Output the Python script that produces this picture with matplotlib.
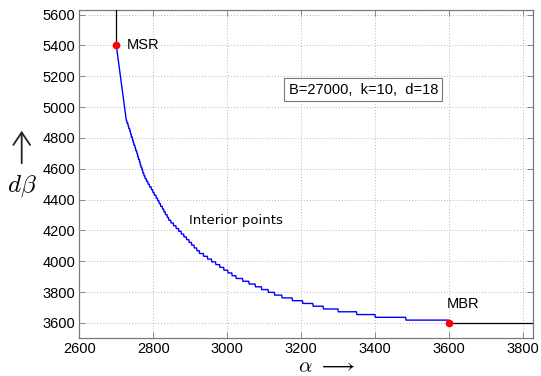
import matplotlib
matplotlib.use("Agg")
import matplotlib.pyplot as plt
from matplotlib.patches import FancyArrowPatch

# Step start points of the tradeoff curve (alpha) and the corresponding d*beta levels
alpha_steps = [2700, 2701, 2702, 2703, 2704, 2705, 2706, 2707, 2708, 2709,
               2710, 2711, 2712, 2713, 2714, 2715, 2716, 2717, 2718, 2719,
               2720, 2721, 2722, 2723, 2724, 2725, 2726, 2727,
               2729, 2732, 2734, 2737, 2739, 2741, 2744, 2746, 2748, 2751,
               2753, 2756, 2758, 2760, 2763, 2765, 2767, 2770, 2772, 2775,
               2778, 2782, 2786, 2790, 2795, 2799, 2803, 2808, 2812, 2816,
               2820, 2825, 2829, 2833, 2838, 2842,
               2848, 2855, 2862, 2869, 2876, 2883, 2890, 2897, 2904, 2911,
               2918, 2925,
               2936, 2947, 2958, 2969, 2980, 2991, 3002, 3013, 3024,
               3042, 3059, 3076, 3093, 3111, 3128,
               3148, 3176, 3204, 3232, 3260,
               3300, 3350, 3400,
               3483, 3600]
dbeta_steps = [5400, 5382, 5364, 5346, 5328, 5310, 5292, 5274, 5256, 5238,
               5220, 5202, 5184, 5166, 5148, 5130, 5112, 5094, 5076, 5058,
               5040, 5022, 5004, 4986, 4968, 4950, 4932, 4914,
               4896, 4878, 4860, 4842, 4824, 4806, 4788, 4770, 4752, 4734,
               4716, 4698, 4680, 4662, 4644, 4626, 4608, 4590, 4572, 4554,
               4536, 4518, 4500, 4482, 4464, 4446, 4428, 4410, 4392, 4374,
               4356, 4338, 4320, 4302, 4284, 4266,
               4248, 4230, 4212, 4194, 4176, 4158, 4140, 4122, 4104, 4086,
               4068, 4050,
               4032, 4014, 3996, 3978, 3960, 3942, 3924, 3906, 3888,
               3870, 3852, 3834, 3816, 3798, 3780,
               3762, 3744, 3726, 3708, 3690,
               3672, 3654, 3636,
               3618, 3600]

msr = (2700, 5400)
mbr = (3600, 3600)
x_ticks = [2600, 2800, 3000, 3200, 3400, 3600, 3800]
y_ticks = [3600, 3800, 4000, 4200, 4400, 4600, 4800, 5000, 5200, 5400, 5600]
xlim = (2600, 3827)
ylim = (3500, 5630)

# curve evaluated on integer alpha: each level holds until one unit before the next step
curve_x, curve_y = [], []
for i, (a, y) in enumerate(zip(alpha_steps, dbeta_steps)):
    curve_x.append(a)
    curve_y.append(y)
    if i + 1 < len(alpha_steps) and alpha_steps[i + 1] - 1 > a:
        curve_x.append(alpha_steps[i + 1] - 1)
        curve_y.append(y)

plt.rcParams['mathtext.fontset'] = 'cm'
fig = plt.figure(figsize=(5.41, 3.76), dpi=100)
ax = fig.add_axes([0.1466, 0.1003, 0.8392, 0.8731])

ax.plot(curve_x, curve_y, color='#0000ff', lw=1.0, zorder=3)
ax.plot([msr[0], msr[0]], [msr[1], ylim[1]], color='black', lw=0.9, zorder=3)
ax.plot([mbr[0], xlim[1]], [mbr[1], mbr[1]], color='black', lw=0.9, zorder=3)
ax.plot([msr[0], mbr[0]], [msr[1], mbr[1]], 'o', color='red', ms=4.5, zorder=4)

ax.set_xlim(*xlim)
ax.set_ylim(*ylim)
ax.set_xticks(x_ticks)
ax.set_yticks(y_ticks)
ax.grid(True, linestyle=(0, (1, 2)), color='#b8b8b8', lw=0.7)
ax.tick_params(direction='in', top=True, right=True, length=4, width=0.6, color='#777777',
               labelsize=10.5, pad=3)
for lab in ax.get_xticklabels() + ax.get_yticklabels():
    lab.set_fontfamily('Liberation Sans')
for s in ax.spines.values():
    s.set_color('#7a7a7a')
    s.set_linewidth(0.9)

ax.text(2727, 5400, 'MSR', fontsize=10.5, family='Liberation Sans', va='center', ha='left')
ax.text(3593, 3678, 'MBR', fontsize=10.5, family='Liberation Sans', va='bottom', ha='left')
ax.text(2897, 4265, 'Interior points', fontsize=9.5, family='DejaVu Sans', va='center', ha='left')
ax.text(3166, 5114, 'B=27000,  k=10,  d=18', fontsize=10.5, family='Liberation Sans',
        va='center', ha='left',
        bbox=dict(boxstyle='square,pad=0.3', facecolor='white', edgecolor='#777777', lw=0.8))

fig.text(326/541, 10/376, r'$\alpha\ \longrightarrow$', fontsize=15, ha='center', va='center')
fig.add_artist(FancyArrowPatch((21.7/541, 1 - 166/376), (21.7/541, 1 - 128/376),
                               transform=fig.transFigure, arrowstyle='->,head_length=0.45,head_width=0.3',
                               lw=1.3, color='#222222', mutation_scale=20))
fig.text(22/541, 1 - 186/376, r'$d\beta$', fontsize=18, ha='center', va='center')

fig.savefig('out.png', dpi=100)
